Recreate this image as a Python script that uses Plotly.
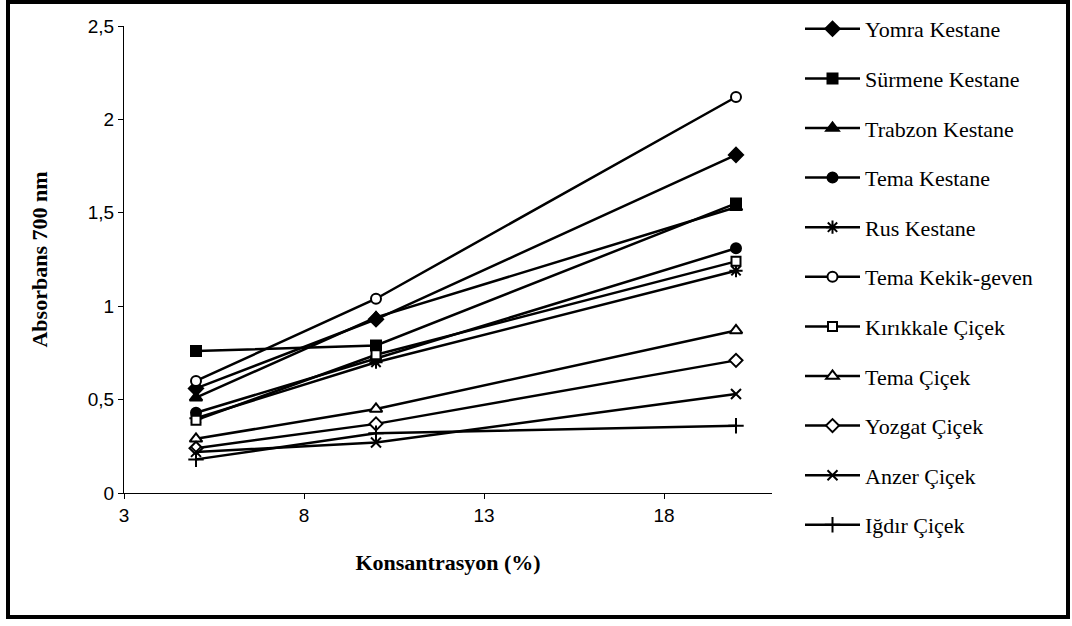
import plotly.graph_objects as go

conc = [5, 10, 20]
series_names = ["Yomra Kestane", "Sürmene Kestane", "Trabzon Kestane", "Tema Kestane",
                "Rus Kestane", "Tema Kekik-geven", "Kırıkkale Çiçek", "Tema Çiçek",
                "Yozgat Çiçek", "Anzer Çiçek", "Iğdır Çiçek"]
yomra = [0.56, 0.93, 1.81]
surmene = [0.76, 0.79, 1.55]
trabzon = [0.51, 0.94, 1.53]
tema_kestane = [0.43, 0.72, 1.31]
rus = [0.40, 0.70, 1.19]
kekik = [0.60, 1.04, 2.12]
kirikkale = [0.39, 0.74, 1.24]
tema_cicek = [0.29, 0.45, 0.87]
yozgat = [0.24, 0.37, 0.71]
anzer = [0.22, 0.27, 0.53]
igdir = [0.18, 0.32, 0.36]
values = [yomra, surmene, trabzon, tema_kestane, rus, kekik, kirikkale,
          tema_cicek, yozgat, anzer, igdir]
y_ticks = [0, 0.5, 1, 1.5, 2, 2.5]
x_ticks = [3, 8, 13, 18]

styles = [
    ("diamond", "black", 11), ("square", "black", 10), ("triangle-up", "black", 11),
    ("circle", "black", 10), ("asterisk-open", "black", 11), ("circle", "white", 10),
    ("square", "white", 9), ("triangle-up", "white", 11), ("diamond", "white", 10),
    ("x-thin-open", "black", 10), ("cross-thin-open", "black", 11),
]

fig = go.Figure()
for i, (name, vals) in enumerate(zip(series_names, values)):
    sym, fill, size = styles[i]
    fig.add_trace(go.Scatter(
        x=conc, y=vals, name=name, mode="lines+markers",
        legendgroup=f"g{i}",
        line=dict(color="black", width=2.5),
        marker=dict(symbol=sym, color=fill, size=size,
                    line=dict(color="black", width=2)),
    ))

W, H = 1072, 626
L, R, T, B = 124, 772, 26, 493
pw, ph = R - L, B - T

def px(x):
    return (x - L) / pw

def py(y):
    return (B - y) / ph

fig.update_layout(
    width=W, height=H,
    margin=dict(l=L, r=W - R, t=T, b=H - B, pad=0),
    paper_bgcolor="white", plot_bgcolor="white",
    separators=", ",
    font=dict(family="Liberation Sans", color="black"),
    legend=dict(
        x=800 / W, y=1 - 8 / H, xref="container", yref="container",
        xanchor="left", yanchor="top",
        font=dict(family="Liberation Serif", size=22, color="black"),
        tracegroupgap=18, bgcolor="rgba(0,0,0,0)", itemwidth=55,
        maxheight=620,
    ),
    showlegend=True,
    xaxis=dict(
        range=[3, 21], tickvals=x_ticks, showline=True, linecolor="black", linewidth=1,
        ticks="outside", ticklen=5, tickcolor="black", showgrid=False, zeroline=False,
        tickfont=dict(size=19, family="Liberation Sans"),
        title=dict(text="Konsantrasyon (%)", standoff=29,
                   font=dict(family="Liberation Serif", size=22, weight="bold")),
    ),
    yaxis=dict(
        range=[0, 2.5], tickvals=y_ticks, showline=True, linecolor="black", linewidth=1,
        ticks="outside", ticklen=5, tickcolor="black", showgrid=False, zeroline=False,
        tickfont=dict(size=19, family="Liberation Sans"),
        title=dict(text="Absorbans 700 nm", standoff=34,
                   font=dict(family="Liberation Serif", size=22, weight="bold")),
    ),
    shapes=[dict(type="rect", xref="paper", yref="paper",
                 x0=px(8), x1=px(1068), y0=py(617), y1=py(2),
                 line=dict(color="black", width=4), fillcolor="rgba(0,0,0,0)")],
)

fig.write_html("out.html")
